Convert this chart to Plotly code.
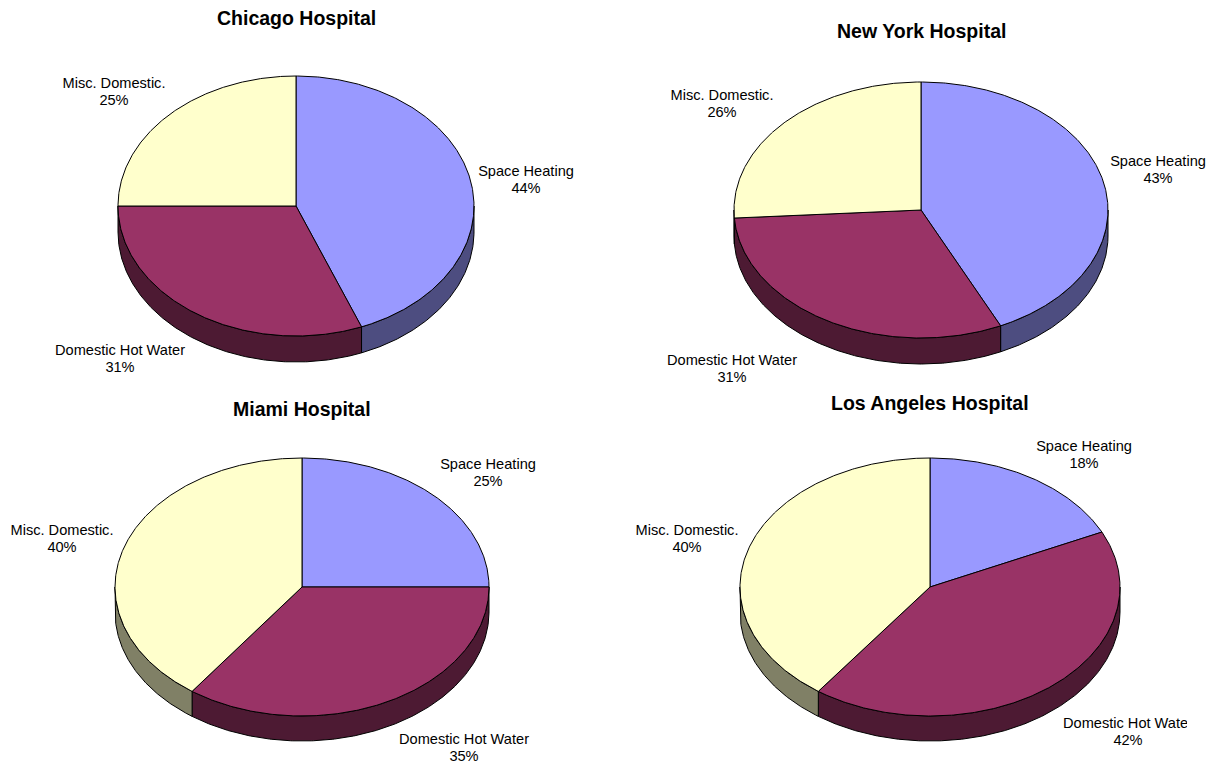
import numpy as np
import plotly.graph_objects as go

# ---------------- data ----------------
hospitals = ["Chicago Hospital", "New York Hospital", "Miami Hospital", "Los Angeles Hospital"]
categories = ["Space Heating", "Domestic Hot Water", "Misc. Domestic."]
chicago = [44, 31, 25]
new_york = [43, 31, 26]
miami = [25, 35, 40]
los_angeles = [18, 42, 40]
series = [chicago, new_york, miami, los_angeles]

# ---------------- styles / layout ----------------
top_colors = ["#9999FF", "#993366", "#FFFFCC"]
side_colors = ["#4D4D80", "#4D1A33", "#808066"]
W, H = 1220, 763
FONT = "Liberation Sans, Arial, sans-serif"
LABEL_SIZE = 14.6
TITLE_SIZE = 19.5
LINE_GAP = 8.5

PIES = [
    dict(cx=296, cy=206, rx=178, ry=130, depth=26, tx=296, ty=18, box=(0, 610, 0, 392),
         labels=[(526, 180.5), (120, 359.5), (114, 92.5)]),
    dict(cx=921, cy=210, rx=187, ry=128, depth=26, tx=921, ty=31, box=(610, 1220, 0, 392),
         labels=[(1158, 170.5), (732, 369.5), (722, 105)]),
    dict(cx=302, cy=587, rx=187, ry=129, depth=25, tx=302, ty=409, box=(0, 610, 392, 763),
         labels=[(488, 473.5), (464, 748.5), (62, 540)]),
    dict(cx=930, cy=587, rx=190, ry=129, depth=25, tx=930, ty=403, box=(610, 1187, 392, 763),
         labels=[(1084, 455.5), (1128, 733), (687, 540)]),
]


def arc(p, a_from, a_to, dy=0.0):
    n = max(2, int(abs(a_to - a_from) * 2) + 1)
    t = np.radians(np.linspace(a_from, a_to, n))
    return p["cx"] + p["rx"] * np.cos(t), p["cy"] - p["ry"] * np.sin(t) + dy


fig = go.Figure()
layout_axes = {}
annotations = []

for i, (name, vals, p) in enumerate(zip(hospitals, series, PIES)):
    ax = "" if i == 0 else str(i + 1)
    xref, yref = "x" + ax, "y" + ax
    x0, x1, y0, y1 = p["box"]
    layout_axes["xaxis" + ax] = dict(domain=[x0 / W, x1 / W], range=[x0, x1], visible=False,
                                     fixedrange=True, anchor=yref)
    layout_axes["yaxis" + ax] = dict(domain=[1 - y1 / H, 1 - y0 / H], range=[y1, y0], visible=False,
                                     fixedrange=True, anchor=xref)

    total = float(sum(vals))
    cum = np.concatenate([[0], np.cumsum(vals)]) / total
    starts = 90 - 360 * cum[:-1]
    ends = 90 - 360 * cum[1:]

    # side walls (front half only: angles between -180 and 0)
    for k in range(len(vals)):
        hi = min(starts[k], 0.0)
        lo = max(ends[k], -180.0)
        if hi > lo:
            xt, yt = arc(p, hi, lo)
            xb, yb = arc(p, lo, hi, p["depth"])
            xs = np.concatenate([xt, xb, xt[:1]])
            ys = np.concatenate([yt, yb, yt[:1]])
            fig.add_trace(go.Scatter(x=xs, y=ys, mode="lines", fill="toself",
                                     fillcolor=side_colors[k], line=dict(color="black", width=1),
                                     hoverinfo="skip", showlegend=False, xaxis=xref, yaxis=yref))

    # top faces
    for k in range(len(vals)):
        xa, ya = arc(p, starts[k], ends[k])
        xs = np.concatenate([[p["cx"]], xa, [p["cx"]]])
        ys = np.concatenate([[p["cy"]], ya, [p["cy"]]])
        fig.add_trace(go.Scatter(x=xs, y=ys, mode="lines", fill="toself",
                                 fillcolor=top_colors[k], line=dict(color="black", width=1),
                                 hoverinfo="skip", showlegend=False, xaxis=xref, yaxis=yref))

    # labels (category line and percentage line)
    lx = [q[0] for q in p["labels"]]
    ly = [q[1] for q in p["labels"]]
    pcts = [f"{v / total * 100:.0f}%" for v in vals]
    fig.add_trace(go.Scatter(x=lx, y=[y - LINE_GAP for y in ly], mode="text", text=categories,
                             textposition="middle center",
                             textfont=dict(family=FONT, size=LABEL_SIZE, color="black"), cliponaxis=True,
                             hoverinfo="skip", showlegend=False, xaxis=xref, yaxis=yref))
    fig.add_trace(go.Scatter(x=lx, y=[y + LINE_GAP for y in ly], mode="text", text=pcts,
                             textposition="middle center",
                             textfont=dict(family=FONT, size=LABEL_SIZE, color="black"), cliponaxis=True,
                             hoverinfo="skip", showlegend=False, xaxis=xref, yaxis=yref))

    annotations.append(dict(x=p["tx"], y=p["ty"], xref=xref, yref=yref, text=f"<b>{name}</b>",
                            showarrow=False, font=dict(family=FONT, size=TITLE_SIZE, color="black"),
                            xanchor="center", yanchor="middle"))

fig.update_layout(
    width=W, height=H, margin=dict(l=0, r=0, t=0, b=0),
    paper_bgcolor="white", plot_bgcolor="rgba(0,0,0,0)",
    annotations=annotations, showlegend=False, **layout_axes,
)

fig.write_html("out.html", config={"displayModeBar": False},
               post_script="document.body.style.margin='0';document.body.style.overflow='hidden';")
